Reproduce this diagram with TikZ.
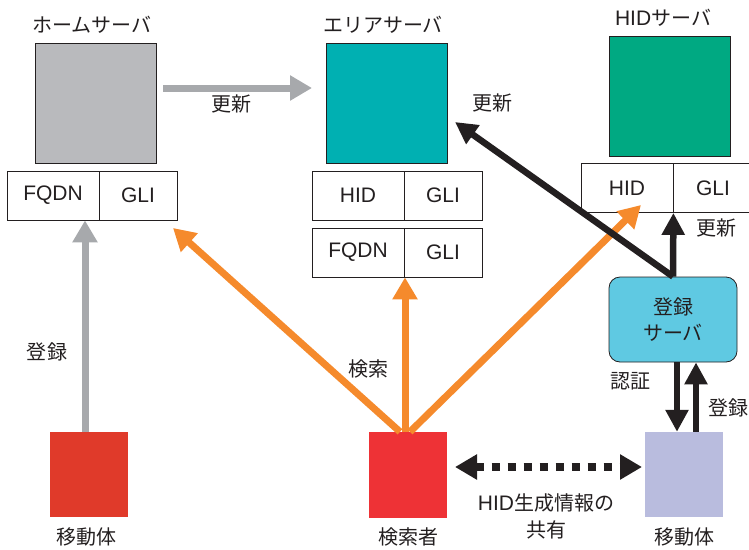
\documentclass[tikz,border=0pt]{standalone}
\usepackage{fontspec}
\setmainfont{Noto Sans CJK JP}
\newfontfamily\lat{Liberation Sans}
\usetikzlibrary{arrows.meta,positioning}
\definecolor{txt}{HTML}{231F20}
\definecolor{homegray}{HTML}{B9BABD}
\definecolor{areateal}{HTML}{00B0B2}
\definecolor{hidgreen}{HTML}{00A982}
\definecolor{regblue}{HTML}{5FC9E2}
\definecolor{mobred}{HTML}{E03A2A}
\definecolor{searchred}{HTML}{EE3236}
\definecolor{moblav}{HTML}{B9BCDE}
\definecolor{arrgray}{HTML}{A7A9AC}
\definecolor{orng}{HTML}{F58A2C}
\tikzset{
  every node/.style={text=txt, font=\fontsize{20}{24}\selectfont},
  latf/.style={font=\lat\fontsize{21}{24}\selectfont},
  srv/.style={draw=txt, line width=0.8pt, minimum width=121, minimum height=120, inner sep=0},
  cellbox/.style={draw=txt, line width=0.8pt, minimum height=49, inner sep=0, latf},
  plain/.style={inner sep=0},
  grayarrow/.style={draw=arrgray, line width=7pt, -{Triangle[length=22pt,width=24pt]}},
  orarrow/.style={draw=orng, line width=7pt, -{Triangle[length=22pt,width=24pt]}},
  blkarrow/.style={draw=txt, line width=6.5pt, -{Triangle[length=22pt,width=22pt]}},
}
\begin{document}
\begin{tikzpicture}[x=1pt,y=-1pt]
\useasboundingbox (0,0) rectangle (749,549);
% servers
\node[srv, fill=homegray] (home) at (95.5,103) {};
\node[plain] (homelbl) at (92,25) {ホームサーバ};
\node[srv, fill=areateal] (area) at (386.5,103) {};
\node[plain] (arealbl) at (383,25) {エリアサーバ};
\node[srv, fill=hidgreen] (hid) at (669.5,96) {};
\node[plain] (hidlbl) at (663,18) {{\lat\fontsize{21}{24}\selectfont HID}サーバ};
% home table
\node[cellbox, minimum width=92] (hF) at (53,195.5) {FQDN};
\node[cellbox, minimum width=78] (hG) at (138,195.5) {GLI};
% area tables
\node[cellbox, minimum width=92] (aH) at (358,195.5) {HID};
\node[cellbox, minimum width=78] (aG) at (443,195.5) {GLI};
\node[cellbox, minimum width=92] (aF) at (358,252.5) {FQDN};
\node[cellbox, minimum width=78] (aG2) at (443,252.5) {GLI};
% hid table
\node[cellbox, minimum width=92] (dH) at (627,188) {HID};
\node[cellbox, minimum width=80] (dG) at (713,188) {GLI};
% register server
\node[draw=txt, line width=0.8pt, fill=regblue, rounded corners=11pt, minimum width=128, minimum height=85, inner sep=0, align=center, font=\fontsize{20}{26}\selectfont] (reg) at (673,319.5) {登録\\サーバ};
% bottom boxes
\node[fill=mobred, minimum width=78, minimum height=85, inner sep=0] (mob1) at (89,474.5) {};
\node[plain] (mob1lbl) at (86,537) {移動体};
\node[fill=searchred, minimum width=78, minimum height=86, inner sep=0] (srch) at (408,475) {};
\node[plain] (srchlbl) at (408,537) {検索者};
\node[fill=moblav, minimum width=78, minimum height=85, inner sep=0] (mob2) at (684,474.5) {};
\node[plain] (mob2lbl) at (684,537) {移動体};
% coordinates
\coordinate (g1s) at (163,88);
\coordinate (g1e) at (312,88);
\coordinate (o1e) at (173,228);
\coordinate (o3e) at (641,205);
\coordinate (bke) at (455,122);
\coordinate (ds) at (455,467);
\coordinate (de) at (642,467);
% arrows
\draw[grayarrow] (g1s) -- (g1e);
\node[plain] (upd1) at (231,104) {更新};
\draw[grayarrow] (mob1.north -| 85,0) -- (hF.south -| 85,0);
\node[plain] (reg1) at (47,352) {登録};
\draw[orarrow] (srch.north -| 400,0) -- (o1e);
\draw[orarrow] (srch.north -| 405,0) -- (aF.south -| 405,0);
\draw[orarrow] (srch.north -| 410,0) -- (o3e);
\node[plain] (srchl) at (368,369) {検索};
\draw[blkarrow] (reg.north) -- (bke);
\node[plain] (upd2) at (492,103) {更新};
\draw[blkarrow] (reg.north) -- (dH.south east);
\node[plain] (upd3) at (716,228) {更新};
\draw[blkarrow] (reg.south -| 677,0) -- (mob2.north -| 677,0);
\draw[blkarrow] (mob2.north -| 696,0) -- (reg.south -| 696,0);
\node[plain] (auth) at (630,381) {認証};
\node[plain] (reg2) at (728,408) {登録};
\draw[draw=txt, line width=8pt, dash pattern=on 8pt off 8pt, {Triangle[length=22pt,width=24pt]}-{Triangle[length=22pt,width=24pt]}] (ds) -- (de);
\node[plain, align=center, font=\fontsize{20}{27}\selectfont] (share) at (546,516) {{\lat\fontsize{21}{24}\selectfont HID}生成情報の\\共有};
\end{tikzpicture}
\end{document}
